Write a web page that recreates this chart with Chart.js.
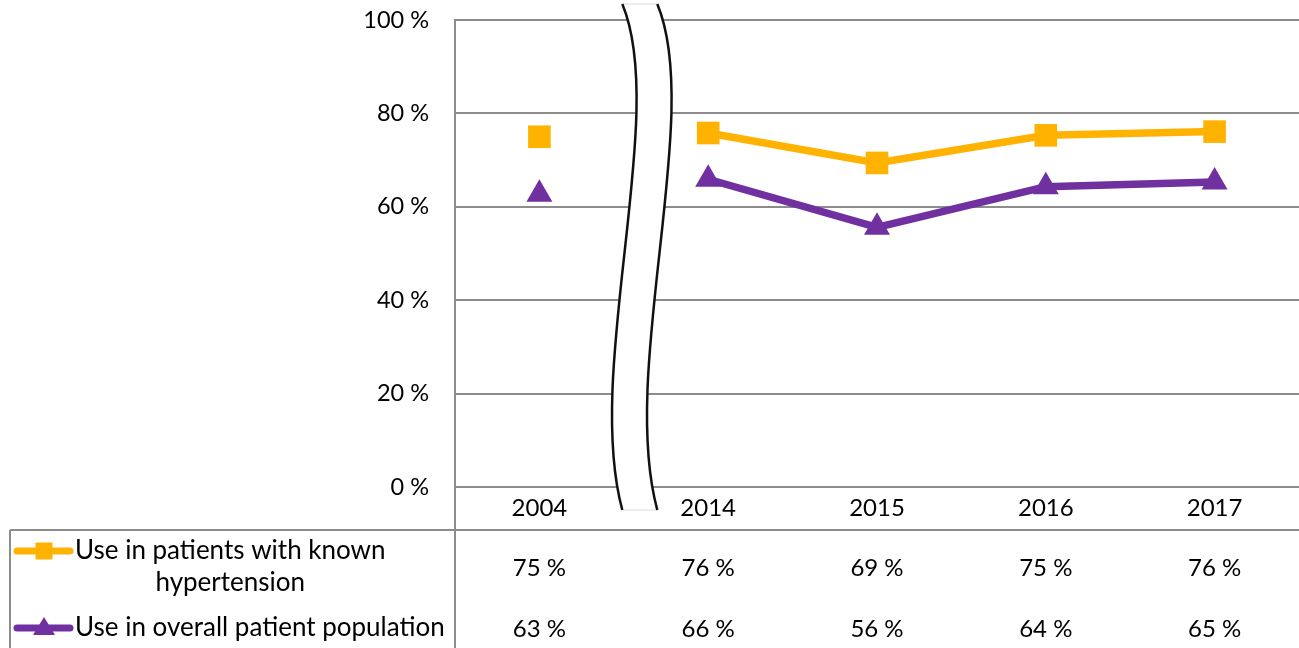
<!DOCTYPE html>
<html>
<head>
<meta charset="utf-8">
<script src="https://cdn.jsdelivr.net/npm/chart.js@4.4.1/dist/chart.umd.min.js"></script>
<style>
html,body{margin:0;padding:0;background:#fff;}
canvas{display:block;}
</style>
</head>
<body>
<canvas id="c" width="1299" height="648"></canvas>
<script>
const categories = ['2004', '2014', '2015', '2016', '2017'];
const hypertension = [75.0, 75.8, 69.4, 75.3, 76.1];
const overall = [62.7, 65.9, 55.6, 64.3, 65.3];
const yTicks = [0, 20, 40, 60, 80, 100];
const seriesNames = [['Use in patients with known', 'hypertension'], ['Use in overall patient population']];

const ORANGE = '#FFB300';
const PURPLE = '#7030A0';
const GRID = '#8c8c8c';
const FONT = 'Lato';
const FS_TICK = 23.5;
const FS_TABLE = 24;
const FS_LEGEND = 26;

function hideGap(color) {
  return ctx => (ctx.p0DataIndex === 0 ? 'rgba(0,0,0,0)' : color);
}

const tablePlugin = {
  id: 'tablePlugin',
  afterDraw(chart) {
    const ctx = chart.ctx;
    const area = chart.chartArea;
    const xs = chart.scales.x;
    const W = chart.width, H = chart.height;
    const headerY = area.bottom + 21;
    const lineY = area.bottom + 43;
    const row1Y = area.bottom + 81;
    const row2Y = area.bottom + 142;
    const legLeft = 10;

    // break symbol between first two categories
    const x0 = xs.getPixelForValue(0), x1 = xs.getPixelForValue(1);
    const mid = (x0 + x1) / 2;
    const top = area.top - 16, bot = area.bottom + 23;
    const h = bot - top;
    const curve = (dx) => ({
      p0: [mid + dx - 1.5, top],
      c1: [mid + dx + 45, top + h * 0.22],
      c2: [mid + dx - 40, top + h * 0.72],
      p3: [mid + dx - 1.5, bot]
    });
    const L = curve(0), R = curve(35);
    ctx.save();
    ctx.beginPath();
    ctx.moveTo(...L.p0);
    ctx.bezierCurveTo(...L.c1, ...L.c2, ...L.p3);
    ctx.lineTo(...R.p3);
    ctx.bezierCurveTo(...R.c2, ...R.c1, ...R.p0);
    ctx.closePath();
    ctx.fillStyle = '#fff';
    ctx.fill();
    ctx.strokeStyle = '#d9d9d9';
    ctx.lineWidth = 1;
    ctx.beginPath();
    ctx.moveTo(...L.p0); ctx.lineTo(...R.p0);
    ctx.moveTo(...L.p3); ctx.lineTo(...R.p3);
    ctx.stroke();
    ctx.strokeStyle = '#111';
    ctx.lineWidth = 2.5;
    [L, R].forEach(c => {
      ctx.beginPath();
      ctx.moveTo(...c.p0);
      ctx.bezierCurveTo(...c.c1, ...c.c2, ...c.p3);
      ctx.stroke();
    });

    // table lines
    ctx.strokeStyle = GRID;
    ctx.lineWidth = 2;
    ctx.beginPath();
    ctx.moveTo(legLeft, lineY); ctx.lineTo(W, lineY);
    ctx.moveTo(legLeft, lineY); ctx.lineTo(legLeft, H);
    ctx.moveTo(area.left, area.bottom); ctx.lineTo(area.left, H);
    ctx.stroke();

    // header & values
    ctx.fillStyle = '#000';
    ctx.font = FS_TABLE + 'px ' + FONT;
    ctx.textAlign = 'center';
    ctx.textBaseline = 'middle';
    categories.forEach((c, i) => {
      const x = xs.getPixelForValue(i);
      ctx.fillText(c, x, headerY);
      ctx.fillText(Math.round(hypertension[i]) + ' %', x, row1Y);
      ctx.fillText(Math.round(overall[i]) + ' %', x, row2Y);
    });

    // legend rows
    const swL = 17, swR = 70, swC = 44, textX = 75;
    const drawSwatch = (y, color, marker) => {
      ctx.strokeStyle = color;
      ctx.lineWidth = 7;
      ctx.lineCap = 'round';
      ctx.beginPath();
      ctx.moveTo(swL, y); ctx.lineTo(swR, y);
      ctx.stroke();
      ctx.fillStyle = color;
      if (marker === 'rect') {
        ctx.fillRect(swC - 8.5, y - 8.5, 17, 17);
      } else {
        ctx.beginPath();
        ctx.moveTo(swC, y - 11);
        ctx.lineTo(swC + 11, y + 7);
        ctx.lineTo(swC - 11, y + 7);
        ctx.closePath();
        ctx.fill();
      }
    };
    drawSwatch(551, ORANGE, 'rect');
    drawSwatch(628, PURPLE, 'triangle');
    ctx.fillStyle = '#000';
    ctx.font = FS_LEGEND + 'px ' + FONT;
    ctx.textAlign = 'left';
    const w1 = ctx.measureText(seriesNames[0][0]).width;
    ctx.fillText(seriesNames[0][0], textX, 551);
    ctx.textAlign = 'center';
    ctx.fillText(seriesNames[0][1], textX + w1 / 2, 583);
    ctx.textAlign = 'left';
    ctx.fillText(seriesNames[1][0], textX, 628);
    ctx.restore();
  }
};

new Chart(document.getElementById('c'), {
  type: 'line',
  data: {
    labels: categories,
    datasets: [
      {
        label: seriesNames[0].join(' '),
        data: hypertension,
        borderColor: ORANGE,
        backgroundColor: ORANGE,
        borderWidth: 7.5,
        pointStyle: 'rect',
        pointRadius: 16,
        pointBorderWidth: 0,
        pointBackgroundColor: ORANGE,
        segment: { borderColor: hideGap(ORANGE) }
      },
      {
        label: seriesNames[1][0],
        data: overall,
        borderColor: PURPLE,
        backgroundColor: PURPLE,
        borderWidth: 7.5,
        pointStyle: 'triangle',
        pointRadius: 15,
        pointBorderWidth: 0,
        pointBackgroundColor: PURPLE,
        segment: { borderColor: hideGap(PURPLE) }
      }
    ]
  },
  options: {
    responsive: false,
    animation: false,
    devicePixelRatio: 1,
    layout: { autoPadding: false, padding: { left: 0, top: 20, right: 0, bottom: 161 } },
    plugins: { legend: { display: false }, tooltip: { enabled: false } },
    scales: {
      x: { display: false, offset: true },
      y: {
        min: 0,
        max: 100,
        afterBuildTicks: s => { s.ticks = yTicks.map(v => ({ value: v })); },
        afterFit: s => { s.width = 455; s.paddingTop = 0; s.paddingBottom = 0; },
        ticks: {
          callback: v => v + ' %',
          color: '#000',
          padding: 0,
          font: { family: FONT, size: FS_TICK }
        },
        grid: { color: GRID, lineWidth: 2, drawTicks: true, tickLength: 26, tickColor: 'rgba(0,0,0,0)' },
        border: { color: GRID, width: 2 }
      }
    }
  },
  plugins: [tablePlugin]
});
</script>
</body>
</html>
